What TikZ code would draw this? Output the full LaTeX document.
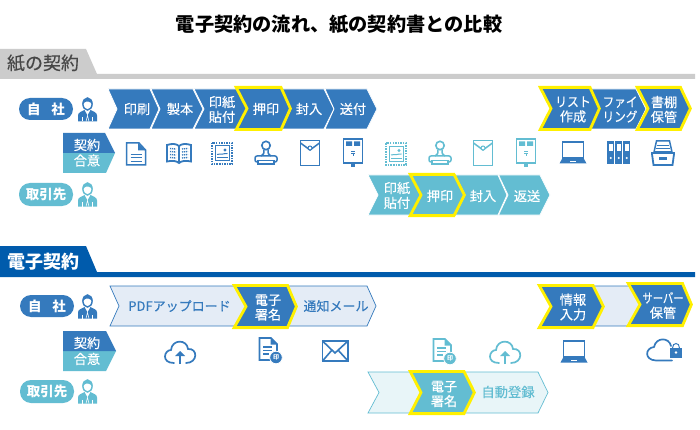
\documentclass[tikz,border=0pt]{standalone}
\usepackage{fontspec}
\setmainfont{Noto Sans CJK JP}
\newfontfamily\medf[FakeBold=0.3]{Noto Sans CJK JP}
\definecolor{bm}{HTML}{357ABD}
\definecolor{tm}{HTML}{63BDD2}
\definecolor{yl}{HTML}{FFF000}
\definecolor{gr}{HTML}{CCCCCC}
\definecolor{db}{HTML}{005BAC}
\definecolor{lb}{HTML}{E4ECF6}
\definecolor{lt}{HTML}{E8F5F8}
\colorlet{ic}{bm}
\tikzset{
  chblue/.style={fill=bm,draw=white,line width=0.8pt},
  chteal/.style={fill=tm,draw=white,line width=0.8pt},
  chlb/.style={fill=lb,draw=bm,line width=0.7pt},
  chlt/.style={fill=lt,draw=tm,line width=0.7pt},
  hlblue/.style={fill=bm,draw=yl,line width=2.8pt,miter limit=10},
  hlteal/.style={fill=tm,draw=yl,line width=2.8pt,miter limit=10},
  wt/.style={text=white,font=\fontsize{13.2}{14.8}\selectfont\medf,align=center,inner sep=0pt},
  bt/.style={text=bm,font=\fontsize{13}{14}\selectfont\medf,align=center,inner sep=0pt},
  tt/.style={text=tm,font=\fontsize{13.3}{14}\selectfont\medf,align=center,inner sep=0pt},
  pilltxt/.style={text=white,font=\fontsize{13.5}{14}\selectfont\bfseries,inner sep=0pt},
  il/.style={draw=ic,line width=1.5pt,fill=none},
}
% x0 notch xr tip y0 y1 style
\newcommand{\chev}[7]{\path[#7] (#1,#5)--(#3,#5)--(#4,{(#5+#6)/2})--(#3,#6)--(#1,#6)--(#2,{(#5+#6)/2})--cycle;}
\newcommand{\pers}[3]{\begin{scope}[shift={(#1,#2)}]\colorlet{ic}{#3}
  \fill[ic] (-9.5,12) -- (-9.5,6) .. controls (-9.5,3) and (-6,2) .. (-3,0.5) -- (0,6) -- (3,0.5) .. controls (6,2) and (9.5,3) .. (9.5,6) -- (9.5,12) -- cycle;
  \draw[white,line width=0.6pt] (-5,12)--(-5,8) (5,12)--(5,8);
  \draw[white,line width=0.5pt] (-1.5,12)--(0,6)--(1.5,12);
  \filldraw[draw=ic,fill=white,line width=1.4pt] (0,-5.5) ellipse (4.6 and 6);
  \fill[ic] (-4.9,-5) .. controls (-5.5,-13) and (5.5,-13) .. (4.9,-5) .. controls (3,-8) and (-1,-9) .. (-3,-7) -- cycle;
\end{scope}}
\newcommand{\idoc}[3]{\begin{scope}[shift={(#1,#2)}]\colorlet{ic}{#3}
  \path[il] (-9.5,-11)--(3,-11)--(9.5,-4)--(9.5,11)--(-9.5,11)--cycle;
  \fill[ic] (2,-11)--(2,-3.5)--(9.5,-3.5)--cycle;
  \draw[ic,line width=0.9pt] (-5.5,0)--(5.5,0) (-5.5,3.5)--(5.5,3.5) (-5.5,7)--(5.5,7);
\end{scope}}
\newcommand{\ibook}[3]{\begin{scope}[shift={(#1,#2)}]\colorlet{ic}{#3}
  \path[il,line width=1.8pt] (-12,-8.5)  .. controls (-7,-10) and (-3,-10) .. (0,-7.5) .. controls (3,-10) and (7,-10) .. (12,-8.5) -- (12,8) .. controls (7,7) and (3,7) .. (0,9.5) .. controls (-3,7) and (-7,7) .. (-12,8) -- cycle;
  \draw[ic,line width=1.4pt] (0,-7.5)--(0,9.5);
  \draw[ic,line width=1.4pt,dash pattern=on 1.2pt off 0.8pt] (-9,-5)--(-3,-4.5) (-9,-2)--(-3,-1.5) (-9,1)--(-3,1.5) (-9,4)--(-3,4.5) (3,-4.5)--(9,-5) (3,-1.5)--(9,-2) (3,1.5)--(9,1) (3,4.5)--(9,4);
\end{scope}}
\newcommand{\istamp}[3]{\begin{scope}[shift={(#1,#2)}]\colorlet{ic}{#3}
  \draw[ic,line width=2.2pt,dash pattern=on 1.5pt off 1.1pt] (-10.2,-10.7) rectangle (10.2,10.7);
  \draw[ic,line width=1pt] (-7,-7.5) rectangle (7,7.5);
  \fill[ic] (3,-3.5) circle (1.6);
  \draw[ic,line width=1pt] (-5,1) .. controls (-3,-1) and (-1,2) .. (1,0.5) .. controls (2.5,-1) and (4,1) .. (5.5,0);
  \draw[ic,line width=1pt] (-5,4.5)--(5.5,4.5);
\end{scope}}
\newcommand{\ihanko}[3]{\begin{scope}[shift={(#1,#2)}]\colorlet{ic}{#3}
  \draw[ic,line width=1.6pt] (0,-8.5) circle (4.2);
  \draw[ic,line width=1.5pt] (-2,-4.5) .. controls (-2,-1) and (-2,1) .. (-5,2) (2,-4.5) .. controls (2,-1) and (2,1) .. (5,2);
  \path[il,rounded corners=2pt] (-11,2)--(11,2)--(11,8)--(-11,8)--cycle;
  \fill[ic] (-9,6) rectangle (9,11);
  \fill[white] (-7,7.5) rectangle (7,9);
\end{scope}}
\newcommand{\ienv}[3]{\begin{scope}[shift={(#1,#2)}]\colorlet{ic}{#3}
  \path[il,line width=1.8pt] (-9.5,-12.5) rectangle (9.5,12.5);
  \path[il] (-9.5,-10)--(0,-3)--(9.5,-10);
  \filldraw[draw=ic,fill=white,line width=1pt] (0,-5) circle (2);
\end{scope}}
\newcommand{\ipost}[3]{\begin{scope}[shift={(#1,#2)}]\colorlet{ic}{#3}
  \path[il,line width=1.8pt] (-9.5,-12) rectangle (9.5,12);
  \fill[ic] (-7,-9.5) rectangle (-1,-5) (1,-9.5) rectangle (7,-5);
  \draw[ic,line width=0.8pt] (-2,0)--(2,0) (-2,2)--(2,2) (0,2)--(0,5);
  \fill[ic] (-1.8,12) rectangle (1.8,16);
\end{scope}}
\newcommand{\ilaptop}[3]{\begin{scope}[shift={(#1,#2)}]\colorlet{ic}{#3}
  \path[il,line width=1.7pt] (-10.5,-11) rectangle (10.5,5);
  \fill[ic] (-13.5,10.5)--(-10.5,5)--(10.5,5)--(13.5,10.5)--cycle;
  \fill[white] (-3,8.2) rectangle (3,9.2);
\end{scope}}
\newcommand{\ibind}[3]{\begin{scope}[shift={(#1,#2)}]\colorlet{ic}{#3}
  \foreach \xx in {-12,-4,4}{
    \fill[ic] (\xx,-11) rectangle ++(7.4,23);
    \fill[white] (\xx+1.7,-7.5) rectangle ++(4,7);
    \fill[white] (\xx+3.7,6) circle (1.2);
  }
\end{scope}}
\newcommand{\idrawer}[3]{\begin{scope}[shift={(#1,#2)}]\colorlet{ic}{#3}
  \path[il] (-9,-1)--(-6.5,-12)--(6.5,-12)--(9,-1);
  \draw[ic,line width=0.9pt] (-6,-8)--(6,-8) (-7,-5)--(7,-5) (-8,-2)--(8,-2);
  \fill[ic] (-12,-1) rectangle (12,1.5);
  \path[il,line width=1.8pt] (-11,1)--(-9.5,12)--(9.5,12)--(11,1);
  \fill[ic] (-4,4) rectangle (4,7);
\end{scope}}
\newcommand{\icloud}[3]{\begin{scope}[shift={(#1,#2)}]\colorlet{ic}{#3}
  \draw[ic,line width=1.7pt,line cap=round] (-6,11) .. controls (-19,11) and (-16,-2) .. (-9,-2) .. controls (-8,-13) and (7,-13) .. (8,-3) .. controls (18,-4) and (18,11) .. (6,11);
  \draw[ic,line width=1.6pt] (0,12)--(0,2);
  \fill[ic] (-5,4)--(0,-1)--(5,4)--cycle;
\end{scope}}
\newcommand{\isdoc}[3]{\begin{scope}[shift={(#1,#2)}]\colorlet{ic}{#3}
  \path[il,line width=1.6pt] (-8.5,-12)--(3,-12)--(9,-6)--(9,10)--(-8.5,10)--cycle;
  \fill[ic] (2.5,-12)--(2.5,-5.5)--(9,-5.5)--cycle;
  \draw[ic,line width=1.1pt] (-5,-3)--(4,-3) (-5,0.5)--(4,0.5) (-5,4)--(1,4);
  \filldraw[fill=ic,draw=white,line width=0.8pt] (8,7.5) circle (6.3);
  \node[text=white,inner sep=0pt,font=\fontsize{6}{6}\selectfont\bfseries] (stamp#1) at (8,7.5) {印};
\end{scope}}
\begin{document}
\begin{tikzpicture}[x=1pt,y=-1pt]
\useasboundingbox (0,0) rectangle (700,430);
\fill[white] (0,0) rectangle (700,430);
\node[inner sep=0pt,font=\fontsize{19.2}{20}\selectfont\bfseries] (title) at (339,24) {電子契約の流れ、紙の契約書との比較};
% section tabs
\fill[gr] (0,49)--(86,49)--(97,74)--(695,74)--(695,79)--(0,79)--cycle;
\node[inner sep=0pt,text=black!72,font=\fontsize{18}{20}\selectfont\medf] (sec1) at (43,63) {紙の契約};
\fill[db] (0,246)--(86,246)--(97,272)--(695,272)--(695,277)--(0,277)--cycle;
\node[inner sep=0pt,text=white,font=\fontsize{18}{20}\selectfont\bfseries] (sec2) at (43,262) {電子契約};
% pills, persons, agreement tags
\fill[bm,rounded corners=11pt] (19,98) rectangle (73,120);
\node[pilltxt] (p1) at (46,109) {自\hspace{0.8em}社};
\pers{87.5}{109.5}{bm}
\fill[tm,rounded corners=11pt] (19,183) rectangle (73,206);
\node[pilltxt] (p2) at (46,194.5) {取引先};
\pers{87.5}{194.5}{tm}
\fill[tm] (63,153)--(115,153)--(106,173)--(63,173)--cycle;
\fill[bm] (63,133)--(105,133)--(115,153)--(63,153)--cycle;
\node[wt] (a1) at (87,145) {契約};
\node[wt] (a2) at (87,160.5) {合意};
\fill[bm,rounded corners=11pt] (20,295) rectangle (74,317);
\node[pilltxt] (p3) at (47,306) {自\hspace{0.8em}社};
\pers{87.5}{306.5}{bm}
\fill[tm,rounded corners=11pt] (20,380) rectangle (74,403);
\node[pilltxt] (p4) at (47,391.5) {取引先};
\pers{87.5}{391.5}{tm}
\fill[tm] (63,351)--(116,351)--(106,371)--(63,371)--cycle;
\fill[bm] (63,331)--(106,331)--(116,351)--(63,351)--cycle;
\node[wt] (a3) at (87,343) {契約};
\node[wt] (a4) at (87,359) {合意};
% paper: own row
\chev{108}{117}{150}{159}{89}{129}{chblue}
\chev{151}{160}{193}{203}{89}{129}{chblue}
\chev{194}{204}{240}{250}{89}{129}{chblue}
\chev{282}{291}{324}{334}{89}{129}{chblue}
\chev{325}{334}{367}{377}{89}{129}{chblue}
\chev{236.2}{247}{281}{290.4}{87.4}{129.6}{hlblue}
\node[wt] (t1) at (137,109) {印刷};
\node[wt] (t2) at (180,109) {製本};
\node[wt] (t3) at (222,109.5) {印紙\\貼付};
\node[wt] (t4) at (266,109) {押印};
\node[wt] (t5) at (309,109) {封入};
\node[wt] (t6) at (353,109) {送付};
\chev{590}{598}{636}{646}{89}{129}{chblue}
\chev{540.2}{551}{590}{599.4}{87.4}{129.6}{hlblue}
\chev{637.2}{648}{680.5}{690.4}{87.4}{129.6}{hlblue}
\node[wt] (t7) at (573,109.5) {\scalebox{0.9}[1]{リスト}\\作成};
\node[wt] (t8) at (620,109.5) {\scalebox{0.88}[1]{ファイ}\\\scalebox{0.88}[1]{リング}};
\node[wt] (t9) at (664,109.5) {書棚\\保管};
% paper: icons
\idoc{136}{154}{bm}
\ibook{179}{153.5}{bm}
\istamp{222}{153.5}{bm}
\ihanko{266}{154}{bm}
\ienv{310}{153}{bm}
\ipost{353}{151}{bm}
\istamp{396}{154}{tm}
\ihanko{440}{154}{tm}
\ienv{483}{153}{tm}
\ipost{526}{151}{tm}
\ilaptop{573}{153}{bm}
\ibind{619}{152}{bm}
\idrawer{663}{153}{bm}
% paper: partner row
\chev{368}{378}{412}{422}{175}{215}{chteal}
\chev{455}{465}{498}{507}{175}{215}{chteal}
\chev{498.5}{508}{540}{550}{175}{215}{chteal}
\chev{410.2}{421}{454}{464.4}{174.4}{215.6}{hlteal}
\node[wt] (t10) at (397,195.5) {印紙\\貼付};
\node[wt] (t11) at (440,196) {押印};
\node[wt] (t12) at (483,196) {封入};
\node[wt] (t13) at (527,196) {返送};
% electronic: own row
\chev{110}{119}{240}{250}{286}{326}{chlb}
\chev{285}{295}{367}{376}{286}{326}{chlb}
\chev{234.2}{246}{287.5}{296.4}{285.4}{327.6}{hlblue}
\node[bt] (e1) at (179.5,306) {PDFアップロード};
\node[wt] (e2) at (268,307.5) {電子\\署名};
\node[bt] (e3) at (336,306) {通知メール};
\chev{590}{600}{632}{642}{286}{326}{chlb}
\chev{539.2}{551}{593}{603.4}{285.4}{327.6}{hlblue}
\chev{628.2}{640}{682.5}{691.4}{283.4}{325.6}{hlblue}
\node[wt] (e4) at (573,307) {情報\\入力};
\node[wt] (e5) at (663,305.5) {\scalebox{0.78}[1]{サーバー}\\保管};
% electronic: icons
\icloud{180}{352}{bm}
\isdoc{268}{350}{bm}
\begin{scope}[shift={(335,351)}]
  \path[draw=bm,line width=1.8pt] (-12.5,-10) rectangle (13,10);
  \draw[bm,line width=1.6pt] (-12.5,-10)--(0,2)--(13,-10) (-12.5,10)--(-3,-1) (13,10)--(3,-1);
\end{scope}
\isdoc{442}{351}{tm}
\icloud{505}{352}{tm}
\ilaptop{574}{352}{bm}
\begin{scope}[shift={(664,350)}]
  \draw[bm,line width=1.7pt,line cap=round] (8,10.5) -- (-8,10.5) .. controls (-20,10) and (-19,-2) .. (-10,-3) .. controls (-8,-13) and (5,-13) .. (7,-4);
  \fill[bm] (6,-2) rectangle (18,8);
  \draw[bm,line width=1pt] (8.5,-2) .. controls (8.5,-8) and (15.5,-8) .. (15.5,-2);
  \fill[white] (12,2.5) circle (1.3);
\end{scope}
% electronic: partner row
\chev{368}{379}{414}{424}{372}{413}{chlt}
\chev{460}{470}{538}{548}{372}{413}{chlt}
\chev{410.2}{421}{464}{474.4}{371.4}{413.6}{hlteal}
\node[wt] (e6) at (444,394) {電子\\署名};
\node[tt] (e7) at (508,392) {自動登録};
\end{tikzpicture}
\end{document}
